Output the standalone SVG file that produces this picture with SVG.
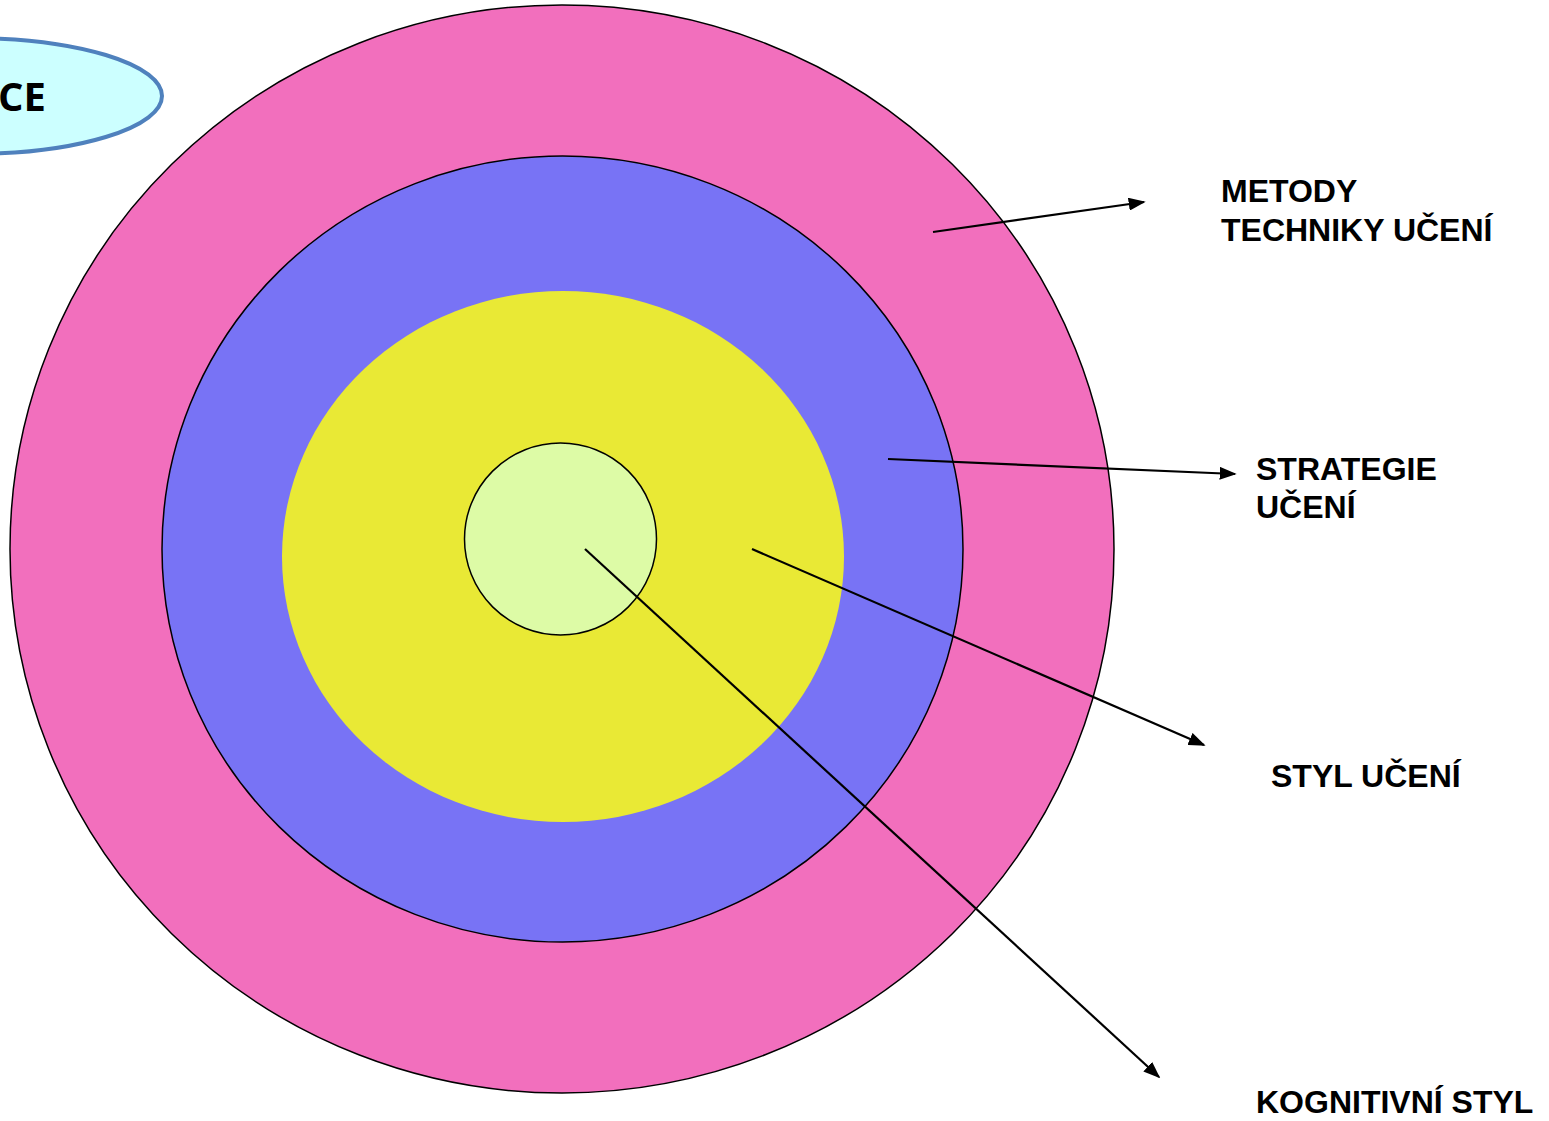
<svg xmlns="http://www.w3.org/2000/svg" width="1549" height="1121" viewBox="0 0 1549 1121">
<style>
.lbl{font-family:"Liberation Sans",Arial,sans-serif;font-weight:bold;font-size:32px;fill:#000}
.ring{stroke:#000;stroke-width:1.5}
.conn{stroke:#000;stroke-width:2.2;fill:none}
</style>
<defs>
<marker id="ah" viewBox="0 0 10 10" refX="9" refY="5" markerWidth="17" markerHeight="13" markerUnits="userSpaceOnUse" orient="auto" preserveAspectRatio="none">
<path d="M0,0 L10,5 L0,10 z" fill="#000"/>
</marker>
</defs>
<rect width="1549" height="1121" fill="#fff"/>
<g id="node-ce">
<ellipse cx="-30" cy="96" rx="192" ry="58" fill="#ccffff" stroke="#4f81bd" stroke-width="4"/>
<text x="46" y="111" font-family="'Open Sans','Noto Sans',sans-serif" font-weight="bold" font-size="40" text-anchor="end">CE</text>
</g>
<g id="node-metody-ring"><ellipse class="ring" cx="562" cy="549" rx="552" ry="544" fill="#f26fbd"/></g>
<g id="node-strategie-ring"><ellipse class="ring" cx="562.5" cy="549" rx="400.5" ry="393" fill="#7873f5"/></g>
<g id="node-styl-ring"><ellipse cx="563" cy="556.5" rx="281" ry="265.5" fill="#e9e935"/></g>
<g id="node-kognitivni-core"><circle class="ring" cx="560.5" cy="539" r="96" fill="#ddfba6"/></g>
<g id="connectors">
<line class="conn" x1="933" y1="232" x2="1144" y2="202" marker-end="url(#ah)"/>
<line class="conn" x1="888" y1="459" x2="1235" y2="474" marker-end="url(#ah)"/>
<line class="conn" x1="752" y1="549" x2="1204" y2="745" marker-end="url(#ah)"/>
<line class="conn" x1="585" y1="549" x2="1159" y2="1077" marker-end="url(#ah)"/>
</g>
<g id="label-metody">
<text class="lbl" x="1221" y="202">METODY</text>
<text class="lbl" x="1221" y="241">TECHNIKY UČENÍ</text>
</g>
<g id="label-strategie">
<text class="lbl" x="1256" y="480">STRATEGIE</text>
<text class="lbl" x="1256" y="518">UČENÍ</text>
</g>
<g id="label-styl"><text class="lbl" x="1271" y="787">STYL UČENÍ</text></g>
<g id="label-kognitivni"><text class="lbl" x="1256" y="1113">KOGNITIVNÍ STYL</text></g>
</svg>
